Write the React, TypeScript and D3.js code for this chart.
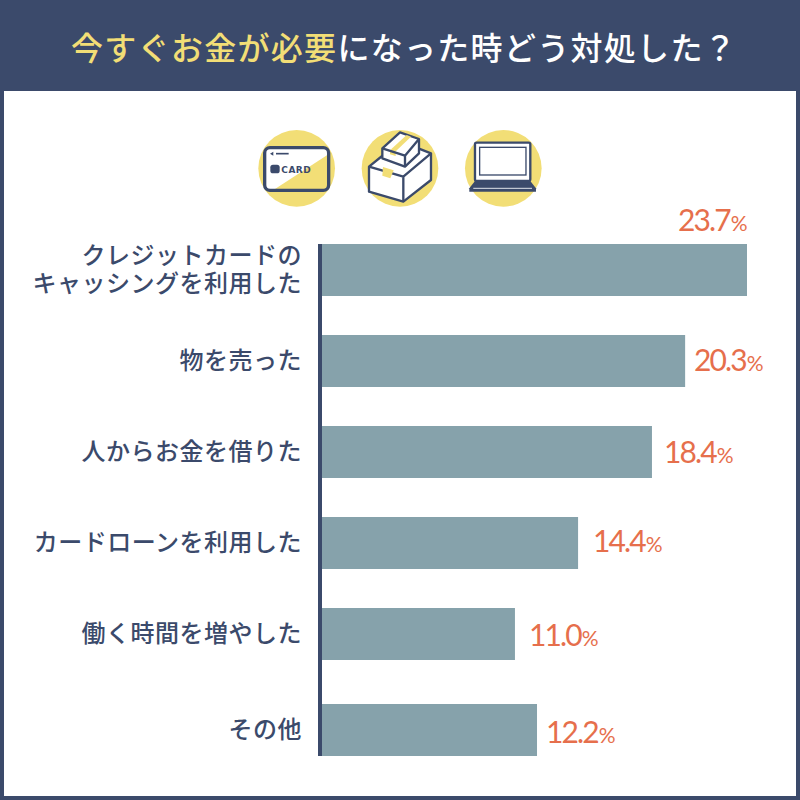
import React from "react";
import * as d3 from "d3";

const titleAccent = "今すぐお金が必要";
const titleRest = "になった時どう対処した？";
const categories = [
  ["クレジットカードの", "キャッシングを利用した"],
  ["物を売った"],
  ["人からお金を借りた"],
  ["カードローンを利用した"],
  ["働く時間を増やした"],
  ["その他"],
];
const valueLabels = ["23.7", "20.3", "18.4", "14.4", "11.0", "12.2"];
const barLengths = [23.7, 20.25, 18.4, 14.28, 10.76, 11.99];

const NAVY = "#3b4a6b";
const YELLOW = "#f2de76";
const BAR = "#86a2ab";
const ORANGE = "#e66f4c";
const JP = "'Noto Sans CJK JP', sans-serif";
const NUM = "Lato, 'Open Sans', sans-serif";

const x = d3.scaleLinear().domain([0, 23.7]).range([322, 747]);
const ids = d3.range(categories.length);
const rowTop = d3.scaleOrdinal<number, number>().domain(ids).range([244, 335, 426, 517, 608, 704]);
const BAR_H = 52;
const labelX = d3.scaleOrdinal<number, number>().domain(ids).range([678, 694, 664, 593, 529, 546]);
const labelY = d3.scaleOrdinal<number, number>().domain(ids).range([231, 371, 463, 552, 646, 743]);

function Icons() {
  const s = { stroke: NAVY, strokeLinejoin: "round" as const };
  return (
    <>
      <g transform="translate(240,120) scale(0.3333)">
        {[170, 480, 790].map((c) => (
          <circle key={c} cx={c} cy={145} r={115} fill={YELLOW} />
        ))}
        {/* card */}
        <rect x={74} y={83} width={192} height={128} rx={16} fill="#fff" />
        <path d="M105 207 L262 105 V195 Q262 207 250 207 Z" fill={YELLOW} />
        <rect x={74} y={83} width={192} height={128} rx={16} fill="none" {...s} strokeWidth={10} />
        <path d="M108 101 H146" stroke={NAVY} strokeWidth={5} />
        <path d="M90 101 L100 95 V107 Z" fill={NAVY} />
        <rect x={91} y={134} width={28} height={26} rx={8} fill={NAVY} />
        <text x={124} y={158} fontFamily="'DejaVu Sans', sans-serif" fontWeight={700} fontSize={27} fill={NAVY} letterSpacing={1.5}>CARD</text>
        {/* laptop */}
        <rect x={705} y={68} width={166} height={115} rx={5} fill="#fff" stroke={NAVY} strokeWidth={7} />
        <rect x={719} y={82} width={139} height={83} fill="#fff" stroke={NAVY} strokeWidth={4} />
        <path d="M705 183 H871 L888 205 V215 H688 V205 Z" fill={NAVY} />
        <path d="M700 205 H876" stroke="#dfe3ea" strokeWidth={3} />
      </g>
      {/* boxes */}
      <g transform="translate(355,125) scale(0.3333)">
        <path d="M42 125 L85 90 L190 70 L228 85 V165 L145 230 L42 200 Z" fill="#fff" {...s} strokeWidth={7} />
        <path d="M42 125 L145 155 L228 85 M145 155 V230" fill="none" {...s} strokeWidth={7} />
        <path d="M84 126 L116 136 L106 160 L82 152 Z" fill={YELLOW} />
        <path d="M82 70 L135 22 L192 42 V85 L150 125 L82 100 Z" fill="#fff" {...s} strokeWidth={7} />
        <path d="M105 76 L155 30 L168 35 L120 81 Z" fill={YELLOW} />
        <path d="M105 78 L122 83 V93 L105 88 Z" fill={YELLOW} />
        <path d="M82 70 L150 92 L192 42 M150 92 V125" fill="none" {...s} strokeWidth={7} />
      </g>
    </>
  );
}

export default function App() {
  return (
    <svg width={800} height={800} style={{ position: "absolute", left: 0, top: 0 }}>
      <rect width={800} height={800} fill={NAVY} />
      <rect x={4} y={91} width={792} height={705} fill="#fff" />
      <text x={71} y={60} fontFamily={JP} fontWeight={500} fontSize={32} letterSpacing={1.3}>
        <tspan fill={YELLOW}>{titleAccent}</tspan>
        <tspan fill="#fff">{titleRest}</tspan>
      </text>
      <Icons />
      <rect x={318} y={244} width={4} height={512} fill={NAVY} />
      {barLengths.map((v, i) => (
        <rect key={i} x={x(0)} y={rowTop(i)} width={x(v) - x(0)} height={BAR_H} fill={BAR} />
      ))}
      {categories.map((lines, i) => {
        const cy = rowTop(i) + BAR_H / 2;
        return (
          <text key={i} textAnchor="end" fontFamily={JP} fontWeight={500} fontSize={24} letterSpacing={0.5} fill={NAVY}>
            {lines.map((l, j) => (
              <tspan key={j} x={302} y={cy + 8 + (j - (lines.length - 1) / 2) * 28}>{l}</tspan>
            ))}
          </text>
        );
      })}
      {valueLabels.map((v, i) => (
        <text key={i} x={labelX(i)} y={labelY(i)} fontFamily={NUM} fill={ORANGE} fontSize={30} letterSpacing={-1.9}>
          {v}
          <tspan fontSize={21} dx={1} letterSpacing={-0.5}>%</tspan>
        </text>
      ))}
    </svg>
  );
}
